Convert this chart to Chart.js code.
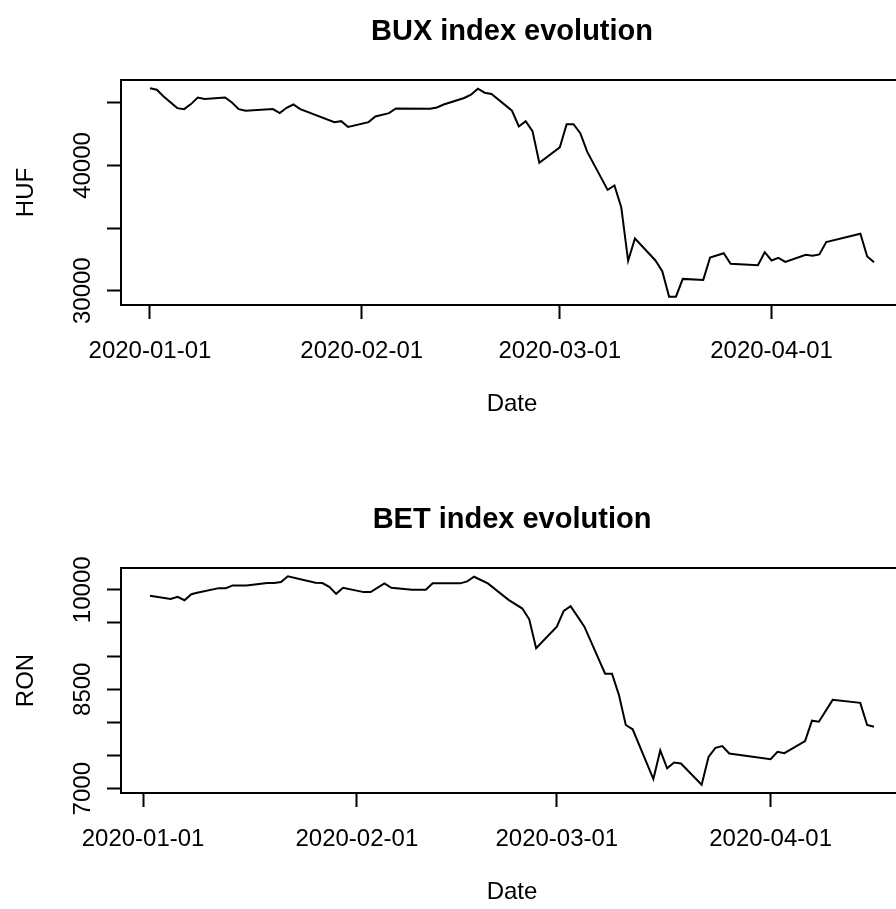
<!DOCTYPE html>
<html>
<head>
<meta charset="utf-8">
<title>BUX and BET index evolution</title>
<script src="https://cdn.jsdelivr.net/npm/chart.js@4"></script>
<style>
  html, body { margin: 0; padding: 0; background: #fff; overflow: hidden; }
  body { width: 896px; height: 909px; position: relative; }
  canvas { position: absolute; left: 0; display: block; }
  #buxChart { top: 0; }
  #betChart { top: 455px; }
</style>
</head>
<body>
<canvas id="buxChart" width="1024" height="455"></canvas>
<canvas id="betChart" width="1024" height="454"></canvas>

<script>
  const FONT = '"Liberation Sans", Arial, Helvetica, sans-serif';

  // BUX (HUF)
  const buxDates = ['2020-01-01','2020-01-02','2020-01-03','2020-01-05','2020-01-06','2020-01-07','2020-01-08','2020-01-09',
    '2020-01-12','2020-01-13','2020-01-14','2020-01-15','2020-01-19','2020-01-20','2020-01-21','2020-01-22','2020-01-23',
    '2020-01-28','2020-01-29','2020-01-30','2020-02-02','2020-02-03','2020-02-05','2020-02-06','2020-02-11','2020-02-12',
    '2020-02-13','2020-02-16','2020-02-17','2020-02-18','2020-02-19','2020-02-20','2020-02-23','2020-02-24','2020-02-25',
    '2020-02-26','2020-02-27','2020-03-01','2020-03-02','2020-03-03','2020-03-04','2020-03-05','2020-03-08','2020-03-09',
    '2020-03-10','2020-03-11','2020-03-12','2020-03-15','2020-03-16','2020-03-17','2020-03-18','2020-03-19','2020-03-22',
    '2020-03-23','2020-03-25','2020-03-26','2020-03-30','2020-03-31','2020-04-01','2020-04-02','2020-04-03','2020-04-06',
    '2020-04-07','2020-04-08','2020-04-09','2020-04-14','2020-04-15','2020-04-16'];
  const buxValues = [46160, 46050, 45510, 44580, 44500, 44900, 45430, 45310,
    45430, 45030, 44500, 44370, 44500, 44180, 44610, 44870, 44500,
    43460, 43540, 43080, 43460, 43910, 44180, 44550, 44530, 44630,
    44870, 45390, 45650, 46130, 45810, 45710, 44370, 43110, 43540,
    42740, 40220, 41450, 43300, 43300, 42580, 41100, 38050, 38400,
    36640, 32380, 34170, 32410, 31550, 29520, 29520, 30940, 30860,
    32650, 32990, 32140, 32030, 33070, 32410, 32620, 32300, 32870,
    32790, 32890, 33880, 34550, 32730, 32270];

  // BET (RON)
  const betDates = ['2020-01-02','2020-01-05','2020-01-06','2020-01-07','2020-01-08','2020-01-09','2020-01-12','2020-01-13',
    '2020-01-14','2020-01-16','2020-01-19','2020-01-20','2020-01-21','2020-01-22','2020-01-26','2020-01-27','2020-01-28',
    '2020-01-29','2020-01-30','2020-02-02','2020-02-03','2020-02-05','2020-02-06','2020-02-09','2020-02-11','2020-02-12',
    '2020-02-16','2020-02-17','2020-02-18','2020-02-20','2020-02-23','2020-02-25','2020-02-26','2020-02-27','2020-03-01',
    '2020-03-02','2020-03-03','2020-03-05','2020-03-08','2020-03-09','2020-03-10','2020-03-11','2020-03-12','2020-03-15',
    '2020-03-16','2020-03-17','2020-03-18','2020-03-19','2020-03-22','2020-03-23','2020-03-24','2020-03-25','2020-03-26',
    '2020-04-01','2020-04-02','2020-04-03','2020-04-06','2020-04-07','2020-04-08','2020-04-10','2020-04-14','2020-04-15',
    '2020-04-16'];
  const betValues = [9910, 9863, 9893, 9843, 9934, 9960, 10025, 10025,
    10066, 10066, 10101, 10101, 10116, 10203, 10106, 10101, 10045,
    9939, 10030, 9965, 9965, 10097, 10030, 10000, 10000, 10097,
    10097, 10127, 10197, 10097, 9848, 9717, 9555, 9119, 9444,
    9681, 9752, 9444, 8735, 8735, 8416, 7961, 7896, 7146,
    7577, 7308, 7395, 7380, 7061, 7480, 7616, 7642, 7531,
    7445, 7556, 7536, 7718, 8026, 8011, 8340, 8295, 7961,
    7935];

  const monthTicks = ['2020-01-01', '2020-02-01', '2020-03-01', '2020-04-01'];
  const buxYTicks = [30000, 35000, 40000, 45000];
  const buxYLabels = [30000, 40000];
  const betYTicks = [7000, 7500, 8000, 8500, 9000, 9500, 10000];
  const betYLabels = [7000, 8500, 10000];

  const DAY = 864e5;
  const origin = Date.UTC(2020, 0, 1);
  function toDay(s) {
    const [y, m, d] = s.split('-').map(Number);
    return (Date.UTC(y, m - 1, d) - origin) / DAY;
  }
  function dayLabel(v) {
    return new Date(origin + Math.round(v) * DAY).toISOString().slice(0, 10);
  }
  // like R: data range widened by 4% on each side
  function rRange(vals) {
    const lo = Math.min(...vals), hi = Math.max(...vals), e = (hi - lo) * 0.04;
    return [lo - e, hi + e];
  }

  // box, titles and the parallel y labels, R style
  const rStyle = {
    id: 'rStyle',
    afterDraw(chart, args, opts) {
      const { ctx, chartArea: a } = chart;
      const ys = chart.scales.y;
      const mid = (a.left + a.right) / 2;
      ctx.save();
      ctx.strokeStyle = '#000';
      ctx.lineWidth = 2;
      ctx.strokeRect(a.left, a.top, a.right - a.left, a.bottom - a.top);

      ctx.fillStyle = '#000';
      ctx.textAlign = 'center';
      ctx.textBaseline = 'alphabetic';
      ctx.font = 'bold 29px ' + FONT;
      ctx.fillText(opts.title, mid, a.top - 51 + 10.5);
      ctx.font = '24px ' + FONT;
      ctx.fillText('Date', mid, a.bottom + 97 + 8.6);

      opts.yLabels.forEach(v => {
        ctx.save();
        ctx.translate(81, ys.getPixelForValue(v));
        ctx.rotate(-Math.PI / 2);
        ctx.fillText(String(v), 0, 8.6);
        ctx.restore();
      });
      ctx.translate(24, (a.top + a.bottom) / 2);
      ctx.rotate(-Math.PI / 2);
      ctx.fillText(opts.yTitle, 0, 8.6);
      ctx.restore();
    }
  };

  function makeChart(id, dates, values, title, yTitle, yTicks, yLabels, padTop, axisH) {
    const xs = dates.map(toDay);
    const [xmin, xmax] = rRange(xs);
    const [ymin, ymax] = rRange(values);
    const tickGrid = { drawOnChartArea: false, drawTicks: true, tickLength: 14, tickWidth: 2, tickColor: '#000' };

    return new Chart(document.getElementById(id), {
      type: 'line',
      data: {
        datasets: [{
          data: xs.map((x, i) => ({ x: x, y: values[i] })),
          borderColor: '#000',
          borderWidth: 2,
          pointRadius: 0,
          tension: 0,
          fill: false
        }]
      },
      options: {
        responsive: false,
        animation: false,
        layout: { padding: { top: padTop, right: 121, left: 0, bottom: 0 } },
        plugins: {
          legend: { display: false },
          tooltip: { enabled: false },
          rStyle: { title: title, yTitle: yTitle, yLabels: yLabels }
        },
        scales: {
          x: {
            type: 'linear', min: xmin, max: xmax,
            afterBuildTicks: s => { s.ticks = monthTicks.map(t => ({ value: toDay(t) })); },
            afterFit: s => { s.height = axisH; },
            grid: tickGrid,
            border: { display: false },
            ticks: {
              autoSkip: false, maxRotation: 0, padding: 18, color: '#000',
              font: { family: FONT, size: 24 },
              callback: v => dayLabel(v)
            }
          },
          y: {
            type: 'linear', min: ymin, max: ymax,
            afterBuildTicks: s => { s.ticks = yTicks.map(v => ({ value: v })); },
            afterFit: s => { s.width = 121; },
            grid: tickGrid,
            border: { display: false },
            ticks: { display: false }
          }
        }
      },
      plugins: [rStyle]
    });
  }

  makeChart('buxChart', buxDates, buxValues, 'BUX index evolution', 'HUF', buxYTicks, buxYLabels, 80, 150);
  makeChart('betChart', betDates, betValues, 'BET index evolution', 'RON', betYTicks, betYLabels, 113, 116);
</script>
</body>
</html>
